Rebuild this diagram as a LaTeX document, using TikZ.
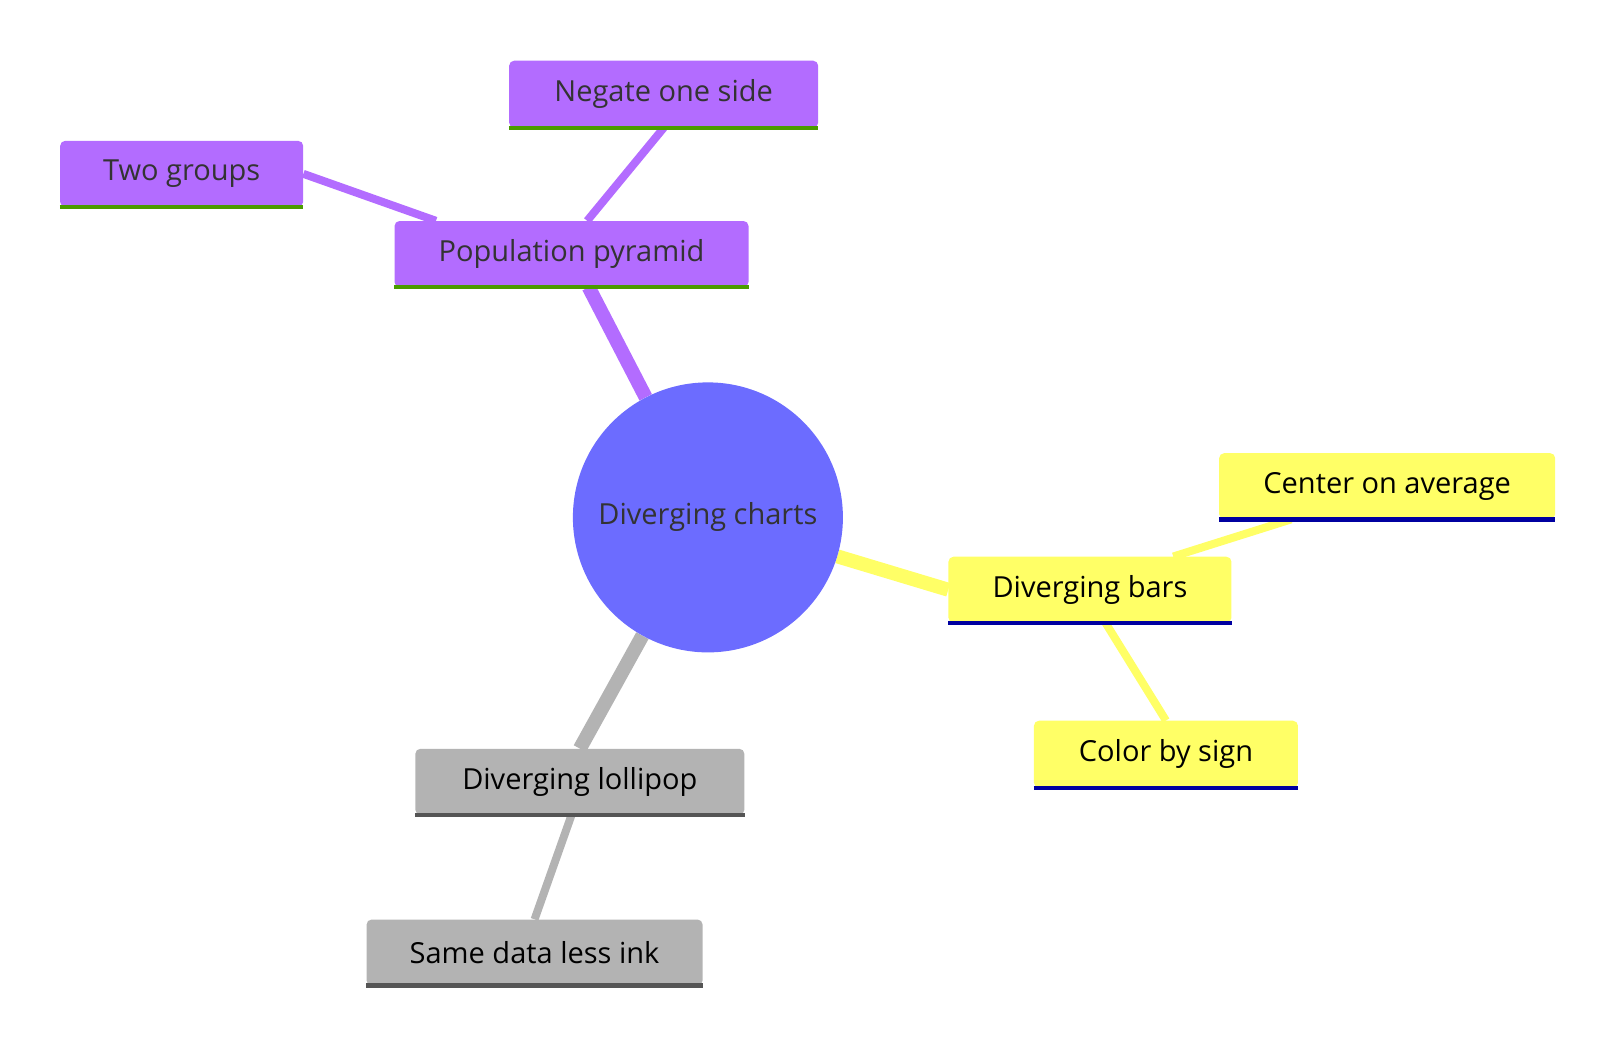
\documentclass[tikz,border=0pt]{standalone}
\usepackage{fontspec}
\setmainfont{Open Sans}
\usetikzlibrary{backgrounds}
\definecolor{rootblue}{HTML}{6C6CFF}
\definecolor{purp}{HTML}{B36CFF}
\definecolor{yell}{HTML}{FFFF66}
\definecolor{gry}{HTML}{B3B3B3}
\definecolor{grn}{HTML}{4A9B00}
\definecolor{navy}{HTML}{0000A0}
\definecolor{dgry}{HTML}{555555}
\definecolor{txt}{HTML}{333333}
\tikzset{
  leaf/.style={rectangle,rounded corners=5pt,inner sep=0pt,text=txt,
    font=\fontsize{29}{34}\selectfont},
  purpleleaf/.style={leaf,fill=purp},
  yellowleaf/.style={leaf,fill=yell,text=black},
  grayleaf/.style={leaf,fill=gry,text=black},
}
\begin{document}
\begin{tikzpicture}[x=1.041pt,y=-1.041pt]
\useasboundingbox (0,0) rectangle (1560,1010.6);
% root
	\node[circle,fill=rootblue,minimum size=270pt,inner sep=0pt,text=txt,
		font=\fontsize{29}{34}\selectfont] (root) at (680,497) {Diverging charts};
% purple branch
	\node[purpleleaf,minimum width=354pt,minimum height=66pt] (pyramid) at (549,244) {Population pyramid};
	\node[purpleleaf,minimum width=243pt,minimum height=66pt] (twogroups) at (174.5,167) {Two groups};
	\node[purpleleaf,minimum width=309pt,minimum height=67pt] (negate) at (637.5,90.5) {Negate one side};
% yellow branch
	\node[yellowleaf,minimum width=283pt,minimum height=66pt] (bars) at (1047,566.5) {Diverging bars};
	\node[yellowleaf,minimum width=336pt,minimum height=66pt] (center) at (1332.5,467) {Center on average};
	\node[yellowleaf,minimum width=264pt,minimum height=67pt] (sign) at (1120,724.5) {Color by sign};
% gray branch
	\node[grayleaf,minimum width=329pt,minimum height=66pt] (lollipop) at (557,751) {Diverging lollipop};
	\node[grayleaf,minimum width=336pt,minimum height=66pt] (lessink) at (513.5,915) {Same data less ink};
% underlines
	\foreach \n/\c in {pyramid/grn,twogroups/grn,negate/grn,bars/navy,center/navy,sign/navy,lollipop/dgry,lessink/dgry}
		\draw[\c,line width=4.5pt] (\n.south west) -- (\n.south east);
% edges
	\begin{scope}[on background layer]
	\draw[purp,line width=14pt] (root) -- (pyramid);
	\draw[purp,line width=8pt] (pyramid.north west) ++(40,0) -- (twogroups.east);
	\draw[purp,line width=8pt] (pyramid.north) ++(15,0) -- (negate.south);
	\draw[yell,line width=14pt] (root) -- (bars.west);
	\draw[yell,line width=8pt] (bars.north) ++(80,0) -- ([xshift=-96pt]center.south);
	\draw[yell,line width=8pt] (bars.south) ++(15,0) -- (sign.north);
	\draw[gry,line width=14pt] (root) -- (lollipop.north);
	\draw[gry,line width=8pt] (lollipop.south) ++(-8,0) -- (lessink.north);
	\end{scope}
\end{tikzpicture}
\end{document}
